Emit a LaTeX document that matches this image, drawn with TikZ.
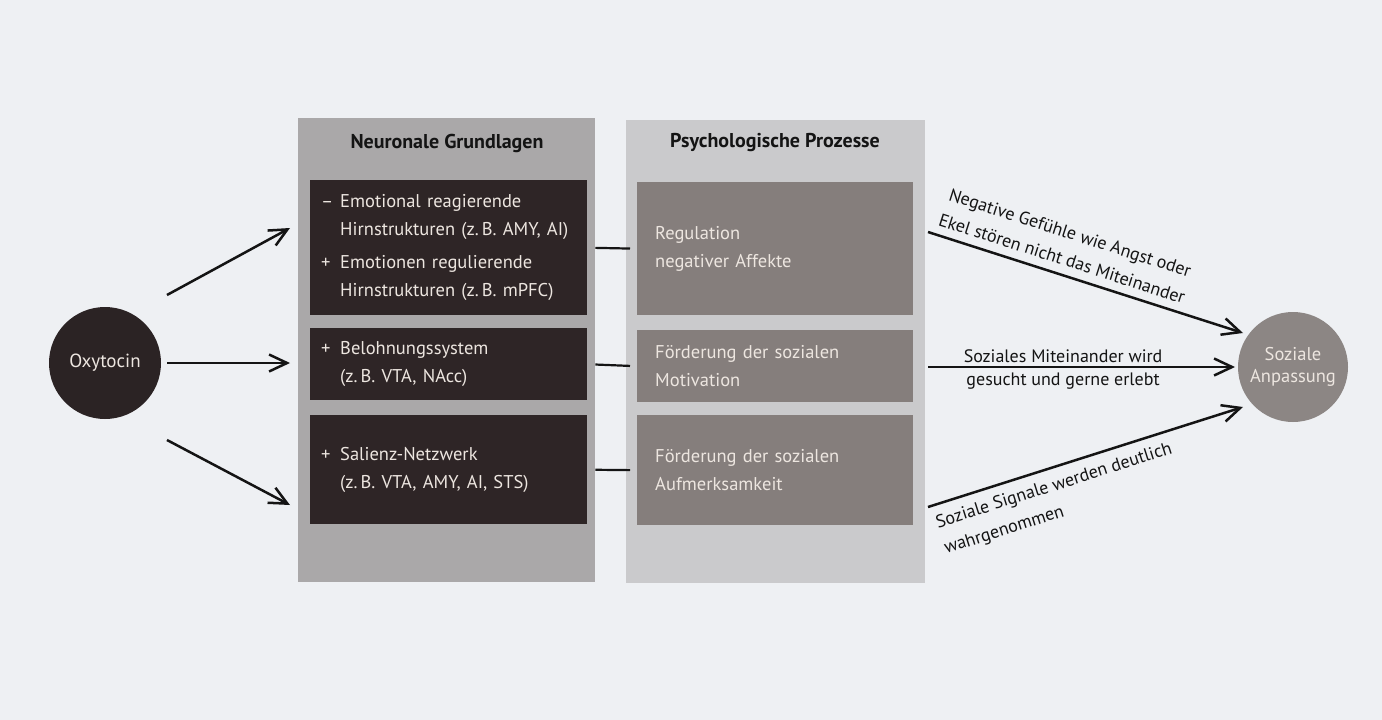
\documentclass[tikz,border=0pt]{standalone}
\usepackage{fontspec}
\setmainfont{PT Sans}
\usetikzlibrary{arrows.meta}
\definecolor{bg}{HTML}{EEF0F3}
\definecolor{panelL}{HTML}{AAA8A9}
\definecolor{panelR}{HTML}{CACACC}
\definecolor{darkbox}{HTML}{2E2526}
\definecolor{greybox}{HTML}{857E7C}
\definecolor{oxyc}{HTML}{2B2324}
\definecolor{sozc}{HTML}{8C8684}
\definecolor{lighttext}{HTML}{EDE6E0}
\definecolor{ink}{HTML}{141414}
\tikzset{
  panel/.style={rectangle, inner sep=0pt, anchor=north west},
  dbox/.style={rectangle, fill=darkbox, anchor=north west, minimum width=277pt,
    text width=255pt, inner xsep=11pt, inner ysep=0pt, align=left,
    text=lighttext, font=\fontsize{18.5}{28.5}\selectfont},
  gbox/.style={rectangle, fill=greybox, anchor=north west, minimum width=276pt,
    text width=240pt, inner xsep=18pt, inner ysep=0pt, align=left,
    text=lighttext, font=\fontsize{18.5}{28}\selectfont},
  heading/.style={font=\fontsize{20}{24}\selectfont\bfseries, text=ink},
  arr/.style={draw=ink, line width=2.5pt,
    -{Straight Barb[length=18pt,width=17pt,line width=2.5pt]}},
  link/.style={draw=ink, line width=2.2pt},
  lbl/.style={font=\fontsize{18}{27}\selectfont, text=ink, inner sep=2pt},
}
\begin{document}
\begin{tikzpicture}[x=1pt,y=-1pt]
\fill[bg] (0,0) rectangle (1382,720);
\useasboundingbox (0,0) rectangle (1382,720);

% panels
\node[panel, fill=panelL, minimum width=297pt, minimum height=464pt] (pL) at (298,118) {};
\node[panel, fill=panelR, minimum width=299pt, minimum height=463pt] (pR) at (626,120) {};
\node[heading] (hL) at (447,143) {Neuronale Grundlagen};
\node[heading] (hR) at (775,143) {Psychologische Prozesse};

% dark boxes
\node[dbox, minimum height=135pt] (nb1) at (310,180)
  {\rule{0pt}{8pt}\makebox[19pt][l]{–}Emotional reagierende\\\hspace*{19pt}Hirnstrukturen (z.\,B. AMY, AI)\\[4pt]\makebox[19pt][l]{+}Emotionen regulierende\\\hspace*{19pt}Hirnstrukturen (z.\,B. mPFC)};
\node[dbox, minimum height=72pt] (nb2) at (310,328)
  {\makebox[19pt][l]{+}Belohnungssystem\\\hspace*{19pt}(z.\,B. VTA, NAcc)};
\node[dbox, minimum height=109pt] (nb3) at (310,415)
  {\makebox[19pt][l]{+}Salienz-Netzwerk\\\hspace*{19pt}(z.\,B. VTA, AMY, AI, STS)};

% grey boxes
\node[gbox, minimum height=133pt] (pb1) at (637,182) {Regulation\\negativer Affekte};
\node[gbox, minimum height=72pt] (pb2) at (637,330) {Förderung der sozialen\\Motivation};
\node[gbox, minimum height=110pt] (pb3) at (637,415) {Förderung der sozialen\\Aufmerksamkeit};

% circles
\node[circle, fill=oxyc, minimum size=112pt, inner sep=0pt, text=lighttext,
  font=\fontsize{19}{22}\selectfont] (oxy) at (105,363) {Oxytocin};
\node[circle, fill=sozc, minimum size=110pt, inner sep=0pt, text=lighttext,
  align=center, font=\fontsize{18.5}{22}\selectfont] (soz) at (1293,367) {Soziale\\Anpassung};

% links between boxes
\draw[link, shorten <=8pt, shorten >=7pt] (nb1.east) -- (pb1.west);
\draw[link, shorten <=8pt, shorten >=7pt] (nb2.east) -- (pb2.west);
\draw[link, shorten <=8pt, shorten >=7pt] (nb3.east) -- (pb3.west);

% oxytocin arrows
\coordinate (o1s) at (167,295);
\coordinate (o1e) at (290,228);
\coordinate (o3s) at (167,440);
\coordinate (o3e) at (290,505);
\draw[arr] (o1s) -- (o1e);
\draw[arr, shorten <=6pt, shorten >=20pt] (oxy.east) -- (nb2.west |- oxy.east);
\draw[arr] (o3s) -- (o3e);

% arrows to Soziale Anpassung
\coordinate (r1s) at (928,232);
\coordinate (r1e) at (1243,333);
\coordinate (r2s) at (928,367);
\coordinate (r2e) at (1235,367);
\coordinate (r3s) at (928,507);
\coordinate (r3e) at (1243,407);
\draw[arr] (r1s) -- node[lbl, pos=0.41, sloped, anchor=south, inner ysep=8pt, align=center]
  {Negative Gefühle wie Angst oder\\Ekel stören nicht das Miteinander} (r1e);
\draw[arr] (r2s) -- node[lbl, pos=0.44, anchor=south, inner ysep=3pt] {Soziales Miteinander wird}
  node[lbl, pos=0.44, anchor=north, inner ysep=5pt] {gesucht und gerne erlebt} (r2e);
\draw[arr] (r3s) -- node[lbl, pos=0.0, sloped, anchor=north west, inner ysep=9pt, align=left]
  {Soziale Signale werden deutlich\\wahrgenommen} (r3e);
\end{tikzpicture}
\end{document}
